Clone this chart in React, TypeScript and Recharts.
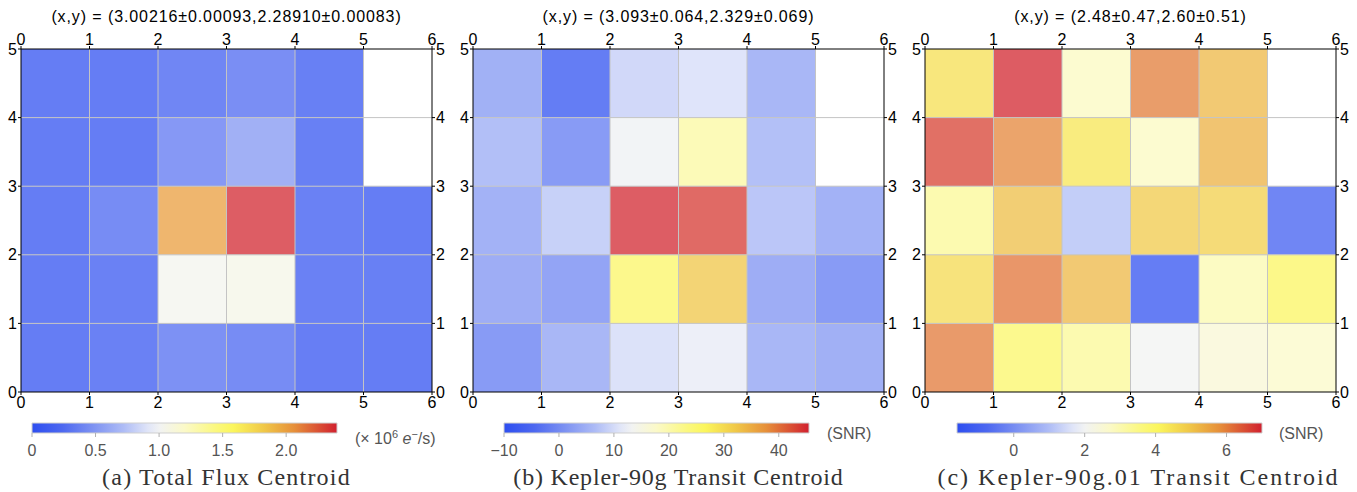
import React from 'react'
import { ComposedChart, XAxis, YAxis, ReferenceArea, ReferenceLine, Scatter } from 'recharts'

const xTicks = [0, 1, 2, 3, 4, 5, 6]
const yTicks = [0, 1, 2, 3, 4, 5]
const gridX = [1, 2, 3, 4, 5]
const gridY = [1, 2, 3, 4]

// pixel values, rows listed from top (y 4-5) down to bottom (y 0-1); null = no pixel
const fluxRows: (number | null)[][] = [
  [0.03, 0.03, 0.14, 0.24, 0.06, null],
  [0.03, 0.03, 0.32, 0.5, 0.06, null],
  [0.03, 0.22, 2.0, 2.38, 0.08, 0.03],
  [0.03, 0.08, 1.03, 1.06, 0.08, 0.06],
  [0.04, 0.08, 0.26, 0.22, 0.05, 0.03],
]
const transitRows: (number | null)[][] = [
  [1.7, -9.4, 8.3, 10, 2.8, null],
  [4.2, -2.2, 12.8, 20.8, 4.4, null],
  [1.9, 7.2, 45, 43.8, 5.5, 1.9],
  [1.1, -0.5, 25.8, 32.5, 1.1, -2.2],
  [-2.2, 2.8, 9.7, 11.9, 2.8, 1.5],
]
const koiRows: (number | null)[][] = [
  [4.5, 6.95, 2.8, 6.0, 5.2, null],
  [6.65, 5.9, 4.4, 2.8, 5.3, null],
  [3.3, 5.1, 1.0, 4.9, 4.8, -1.1],
  [4.6, 6.1, 5.2, -1.5, 3.0, 4.0],
  [6.05, 3.9, 3.3, 2.0, 2.5, 2.7],
]

const titles = [
  '(x,y) = (3.00216±0.00093,2.28910±0.00083)',
  '(x,y) = (3.093±0.064,2.329±0.069)',
  '(x,y) = (2.48±0.47,2.60±0.51)',
]
const captions = ['(a) Total Flux Centroid', '(b) Kepler-90g Transit Centroid', '(c) Kepler-90g.01 Transit Centroid']
const ranges: [number, number][] = [[0, 2.4], [-10, 45.5], [-1.6, 7.0]]
const cbTicks = [[0, 0.5, 1.0, 1.5, 2.0], [-10, 0, 10, 20, 30, 40], [0, 2, 4, 6]]
const cbMinorStep = [0.1, 2, 0.5]
const cbDecimals = [1, 0, 0]

const cmapStops: [number, string][] = [
  [0, '#2d4ef0'],
  [0.1, '#4d68f0'],
  [0.2, '#7d92f2'],
  [0.3, '#aebcf6'],
  [0.38, '#e0e5f8'],
  [0.42, '#f2f3f2'],
  [0.5, '#fbf9c8'],
  [0.6, '#fbf880'],
  [0.66, '#fbf65c'],
  [0.76, '#f0c848'],
  [0.86, '#e68f3a'],
  [1, '#d1202f'],
]

const hexRgb = (h: string) => [1, 3, 5].map((i) => parseInt(h.slice(i, i + 2), 16))

function cmap(t: number) {
  const v = Math.max(0, Math.min(1, t))
  for (let i = 1; i < cmapStops.length; i++) {
    const [t1, c1] = cmapStops[i]
    const [t0, c0] = cmapStops[i - 1]
    if (v <= t1) {
      const f = (v - t0) / (t1 - t0)
      const a = hexRgb(c0)
      const b = hexRgb(c1)
      const rgb = a.map((x, k) => Math.round(x + (b[k] - x) * f))
      return `rgb(${rgb.join(',')})`
    }
  }
  return cmapStops[cmapStops.length - 1][1]
}

const panelRows = [fluxRows, transitRows, koiRows]
const plotLefts = [21, 473, 925]
const cbOffsets = [11, 31, 32]
const captionShift = [0, 0, 8]
const captionSpacing = [1.2, 0.8, 2.0]

const sans = 'Liberation Sans, Arial, sans-serif'
const tickStyle = { fontSize: 16, fill: '#000', fontFamily: sans }
const cbTickStyle = { fontSize: 16, fill: '#555', fontFamily: sans }
const noShape = () => <g />

function Heatmap({ idx }: { idx: number }) {
  const rows = panelRows[idx]
  const [lo, hi] = ranges[idx]
  const cells: { x: number; y: number; v: number }[] = []
  rows.forEach((row, r) =>
    row.forEach((v, c) => {
      if (v !== null) cells.push({ x: c + 0.5, y: 4.5 - r, v })
    })
  )
  return (
    <ComposedChart width={453} height={413} margin={{ top: 28, right: 0, bottom: 0, left: 0 }}>
      <XAxis xAxisId="b" type="number" dataKey="x" domain={[0, 6]} ticks={xTicks} orientation="bottom" height={21}
        tick={tickStyle} tickSize={3} tickMargin={2} stroke="#000" interval={0} allowDataOverflow />
      <XAxis xAxisId="t" type="number" dataKey="x" domain={[0, 6]} ticks={xTicks} orientation="top" height={21}
        tick={tickStyle} tickSize={3} tickMargin={1} stroke="#000" interval={0} allowDataOverflow />
      <YAxis yAxisId="l" type="number" dataKey="y" domain={[0, 5]} ticks={yTicks} width={21}
        tick={tickStyle} tickSize={3} tickMargin={1} stroke="#000" interval={0} allowDataOverflow />
      <YAxis yAxisId="r" type="number" dataKey="y" domain={[0, 5]} ticks={yTicks} width={21} orientation="right"
        tick={tickStyle} tickSize={3} tickMargin={1} stroke="#000" interval={0} allowDataOverflow />
      <Scatter data={cells} dataKey="y" xAxisId="b" yAxisId="l" shape={noShape} isAnimationActive={false} />
      <Scatter data={cells} dataKey="y" xAxisId="t" yAxisId="r" shape={noShape} isAnimationActive={false} />
      {cells.map((c) => (
        <ReferenceArea key={`${c.x}-${c.y}`} xAxisId="b" yAxisId="l" x1={c.x - 0.5} x2={c.x + 0.5} y1={c.y - 0.5} y2={c.y + 0.5}
          fill={cmap((c.v - lo) / (hi - lo))} fillOpacity={0.75} stroke="none" />
      ))}
      {gridX.map((x) => (
        <ReferenceLine key={`gx${x}`} xAxisId="b" yAxisId="l" x={x} stroke="#c4c4c4" strokeWidth={1} />
      ))}
      {gridY.map((y) => (
        <ReferenceLine key={`gy${y}`} xAxisId="b" yAxisId="l" y={y} stroke="#c4c4c4" strokeWidth={1} />
      ))}
    </ComposedChart>
  )
}

function Colorbar({ idx }: { idx: number }) {
  const [lo, hi] = ranges[idx]
  const step = cbMinorStep[idx]
  const minor: number[] = []
  for (let k = Math.ceil(lo / step - 1e-6); k * step <= hi + 1e-9; k++) minor.push(+(k * step).toFixed(3))
  const ends = [{ x: lo, y: 0 }, { x: hi, y: 1 }]
  const gid = `cb${idx}`
  const fmt = (v: number) => {
    const s = v.toFixed(cbDecimals[idx] && v !== 0 ? cbDecimals[idx] : 0)
    return s.replace('-', '\u2212')
  }
  return (
    <ComposedChart width={345} height={48} margin={{ top: 5, right: 20, bottom: 0, left: 20 }}>
      <defs>
        <linearGradient id={gid} x1="0" y1="0" x2="1" y2="0">
          {cmapStops.map(([t, c]) => (
            <stop key={t} offset={`${t * 100}%`} stopColor={c} />
          ))}
        </linearGradient>
      </defs>
      <XAxis xAxisId="minor" type="number" dataKey="x" domain={[lo, hi]} ticks={minor} height={0} axisLine={false}
        tickSize={3} tickLine={{ stroke: '#c8c8c8' }} tickFormatter={() => ''} interval={0} allowDataOverflow />
      <XAxis xAxisId="major" type="number" dataKey="x" domain={[lo, hi]} ticks={cbTicks[idx]} height={33} axisLine={false}
        tickSize={4} tickMargin={8} tickLine={{ stroke: '#b0b0b0' }} tick={cbTickStyle} tickFormatter={fmt} interval={0} allowDataOverflow />
      <YAxis hide yAxisId="c" type="number" dataKey="y" domain={[0, 1]} />
      <Scatter data={ends} dataKey="y" xAxisId="minor" yAxisId="c" shape={noShape} isAnimationActive={false} />
      <Scatter data={ends} dataKey="y" xAxisId="major" yAxisId="c" shape={noShape} isAnimationActive={false} />
      <ReferenceArea xAxisId="major" yAxisId="c" x1={lo} x2={hi} y1={0} y2={1} fill={`url(#${gid})`}
        fillOpacity={1} stroke="#cfcfcf" strokeWidth={1} />
    </ComposedChart>
  )
}

const unitStyle: React.CSSProperties = {
  position: 'absolute', top: 424, fontFamily: sans, fontSize: 16, color: '#555', whiteSpace: 'nowrap', lineHeight: '20px',
}

export default function App() {
  return (
    <div style={{ position: 'absolute', left: 0, top: 0, width: 1357, height: 492, background: '#fff', overflow: 'hidden' }}>
      {plotLefts.map((pl, i) => (
        <React.Fragment key={i}>
          <div style={{ position: 'absolute', left: pl - 20, top: 8, width: 451, textAlign: 'center', fontFamily: sans, fontSize: 16, letterSpacing: 0.9, lineHeight: '18px', color: '#000', whiteSpace: 'nowrap' }}>
            {titles[i]}
          </div>
          <div style={{ position: 'absolute', left: pl - 21, top: 0 }}>
            <Heatmap idx={i} />
          </div>
          <div style={{ position: 'absolute', left: pl + cbOffsets[i] - 20, top: 418 }}>
            <Colorbar idx={i} />
          </div>
          <div style={{ position: 'absolute', left: pl - 60 + captionShift[i], top: 463, width: 531, textAlign: 'center', fontFamily: 'Liberation Serif, Times New Roman, serif', fontSize: 24, letterSpacing: captionSpacing[i], lineHeight: '28px', color: '#333', whiteSpace: 'nowrap' }}>
            {captions[i]}
          </div>
        </React.Fragment>
      ))}
      <div style={{ ...unitStyle, left: 355 }}>
        (× 10<sup style={{ fontSize: 11 }}>6</sup> <i>e</i><sup style={{ fontSize: 11 }}>−</sup>/s)
      </div>
      <div style={{ ...unitStyle, left: 827 }}>(SNR)</div>
      <div style={{ ...unitStyle, left: 1279 }}>(SNR)</div>
    </div>
  )
}
